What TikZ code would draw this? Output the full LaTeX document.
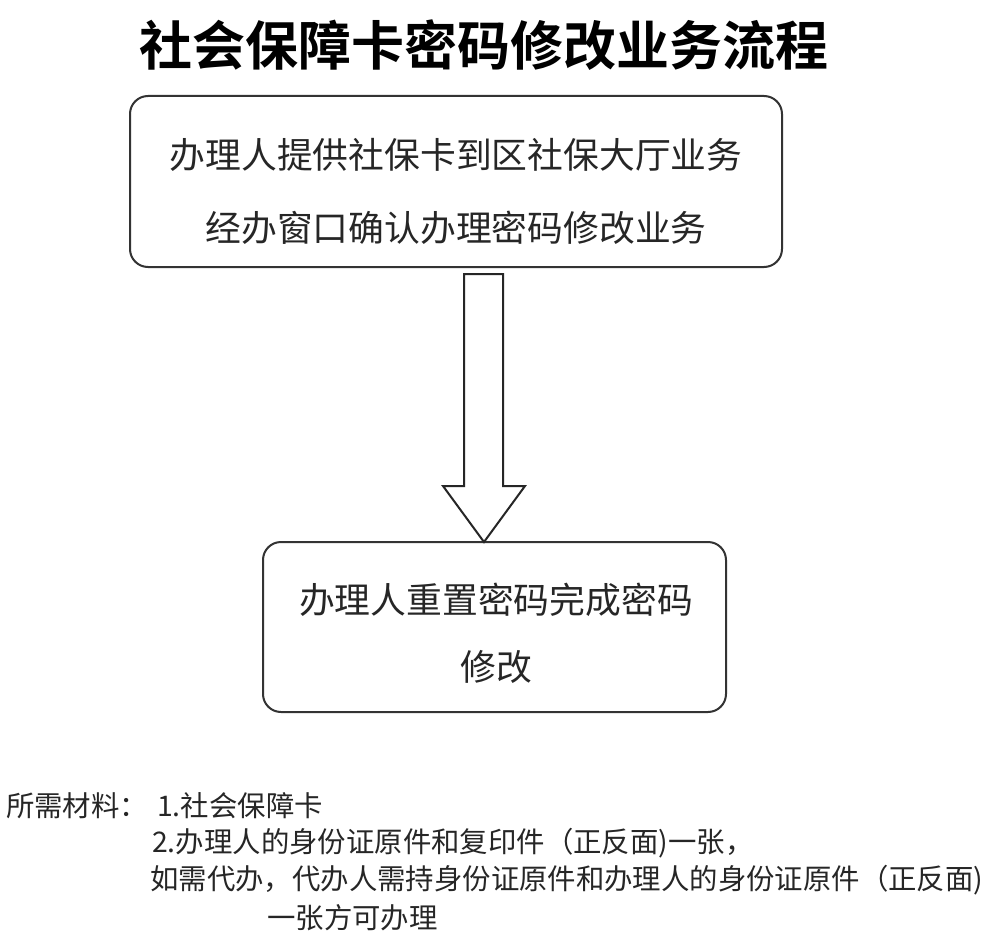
\documentclass[tikz,border=0pt]{standalone}
\usepackage{fontspec}
\newfontfamily\cjk{Noto Sans CJK SC}
\newfontfamily\cjkb{Noto Sans CJK SC Bold}
\begin{document}
\begin{tikzpicture}[x=1pt,y=-1pt,
  box/.style={draw=black!80, line width=2pt, rounded corners=18pt, inner sep=0pt},
  boxtext/.style={inner sep=0pt, text=black!85, font=\cjk\fontsize{35.8}{40}\selectfont},
  note/.style={inner sep=0pt, anchor=west, text=black!85, font=\cjk\fontsize{28.4}{32}\selectfont}]
\useasboundingbox[fill=white] (0,0) rectangle (986,942);
% title
\node[inner sep=0pt, font=\cjkb\fontsize{53}{60}\selectfont] (title) at (484,45) {社会保障卡密码修改业务流程};
% box 1
\node[box, minimum width=652pt, minimum height=171pt] (b1) at (456,181.5) {};
\node[boxtext] (t1a) at (456,155) {办理人提供社保卡到区社保大厅业务};
\node[boxtext] (t1b) at (456,228) {经办窗口确认办理密码修改业务};
% box 2
\node[box, minimum width=463pt, minimum height=170pt] (b2) at (494.5,627) {};
\node[boxtext] (t2a) at (496,600) {办理人重置密码完成密码};
\node[boxtext] (t2b) at (496,667) {修改};
% block arrow
\coordinate (tip) at (484,542);
\draw[draw=black!85, line width=2pt, fill=white, line join=miter]
  (464,274) -- (503,274) -- (503,486) -- (525,486) -- (tip) -- (443,486) -- (464,486) -- cycle;
% notes
\node[note] (n0) at (6,806) {所需材料：};
\node[note] (n1) at (157,806) {1.社会保障卡};
\node[note] (n2) at (152,843) {2.办理人的身份证原件和复印件（正反面)一张，};
\node[note] (n3) at (150,880) {如需代办，代办人需持身份证原件和办理人的身份证原件（正反面)};
\node[note] (n4) at (267,918) {一张方可办理};
\end{tikzpicture}
\end{document}
